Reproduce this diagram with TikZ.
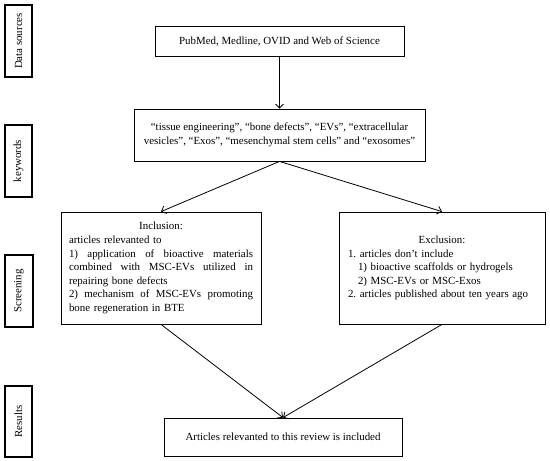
\documentclass[tikz,border=0pt]{standalone}
\usepackage{fontspec}
\setmainfont{Liberation Serif}
\usetikzlibrary{arrows.meta}
\newcommand{\jline}[1]{{\spaceskip=0pt\xspaceskip=0pt\relax\makebox[184pt][s]{#1}}}
\begin{document}
\frenchspacing
\begin{tikzpicture}[x=1pt,y=-1pt,
  every node/.style={font=\fontsize{10.9}{13.6}\selectfont, inner sep=0pt},
  mainbox/.style={draw, line width=0.8pt, minimum width=#1, align=center},
  sidebox/.style={draw, line width=1.4pt, rotate=90},
  conn/.style={line width=0.8pt, -{Straight Barb[length=4pt,width=8pt]}}]
\useasboundingbox (0,0) rectangle (550,461);
% side labels
\node[sidebox, minimum width=72pt, minimum height=27pt] (sds) at (18.5,41) {Data sources};
\node[sidebox, minimum width=72pt, minimum height=27pt] (skw) at (18.5,161) {keywords};
\node[sidebox, minimum width=72pt, minimum height=28pt] (ssc) at (19,291) {Screening};
\node[sidebox, minimum width=71pt, minimum height=27pt] (sres) at (18.5,421.5) {Results};
% main boxes
\node[mainbox=249pt, minimum height=30pt] (src) at (279.5,41) {PubMed, Medline, OVID and Web of Science};
\node[mainbox=291pt, minimum height=52pt] (kw) at (279.5,135) {“tissue engineering”, “bone defects”, “EVs”, “extracellular\\vesicles”, “Exos”, “mesenchymal stem cells” and “exosomes”};
\node[draw, line width=0.8pt, minimum width=200pt, minimum height=112pt, text width=184pt, align=left] (inc) at (161,268) {%
\makebox[184pt][c]{Inclusion:}\\
articles relevanted to\\
\jline{1) application of bioactive materials}\\
\jline{combined with MSC-EVs utilized in}\\
repairing bone defects\\
\jline{2) mechanism of MSC-EVs promoting}\\
bone regeneration in BTE};
\node[draw, line width=0.8pt, minimum width=206pt, minimum height=112pt, text width=188pt, align=left] (exc) at (442,268) {%
\makebox[188pt][c]{Exclusion:}\\
1. articles don’t include\\
\hspace*{10pt}1) bioactive scaffolds or hydrogels\\
\hspace*{10pt}2) MSC-EVs or MSC-Exos\\
2. articles published about ten years ago};
\node[mainbox=238pt, minimum height=38pt] (res) at (283,437) {Articles relevanted to this review is included};
% connectors
\draw[conn] (src.south) -- (kw.north);
\draw[conn] (kw.south) -- (inc.north);
\draw[conn] (kw.south) -- (exc.north);
\draw[conn] (inc.south) -- (res.north);
\draw[conn] (exc.south) -- (res.north);
\end{tikzpicture}
\end{document}
